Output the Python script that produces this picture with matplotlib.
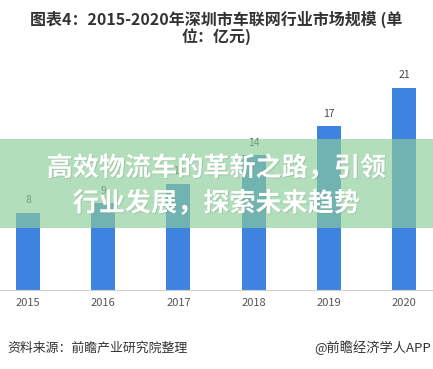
import matplotlib
matplotlib.use("Agg")
import matplotlib.pyplot as plt
from matplotlib.patches import Rectangle
import matplotlib.patheffects as pe

plt.rcParams['font.family'] = ['Noto Sans CJK SC', 'DejaVu Sans']

years = ["2015", "2016", "2017", "2018", "2019", "2020"]
values = [8, 9, 11, 14, 17, 21]
title = "图表4：2015-2020年深圳市车联网行业市场规模 (单\n位：亿元)"
overlay = "高效物流车的革新之路，引领\n行业发展，探索未来趋势"
source = "资料来源：前瞻产业研究院整理"
credit = "@前瞻经济学人APP"

fig = plt.figure(figsize=(4.33, 3.69), dpi=100)
ax = fig.add_axes([0, 0.214, 1, 0.652])
x = range(len(years))
ax.bar(x, values, width=0.32, color="#3f83e0", zorder=2)
for i, v in zip(x, values):
    ax.text(i, v + 0.8, str(v), ha="center", va="bottom", fontsize=7.5, color="#444")
ax.set_xlim(-0.372, 5.386)
ax.set_ylim(0, 25)
ax.set_xticks(list(x))
ax.set_xticklabels(years, fontsize=8, color="#555")
ax.tick_params(axis="x", length=0, pad=6)
ax.set_yticks([])
for s in ["top", "left", "right"]:
    ax.spines[s].set_visible(False)
ax.spines["bottom"].set_color("#d0d0d0")

fig.text(0.5, 0.97, title, ha="center", va="top", fontsize=11.5, fontweight="heavy",
         color="#333333", linespacing=0.95)

# green band overlay
fig.patches.append(Rectangle((0, (369 - 228) / 369), 1, 89 / 369, transform=fig.transFigure,
                             facecolor="#8ccd99", alpha=0.66, edgecolor="none", zorder=5))
fig.text(0.5, (369 - 186) / 369, overlay, ha="center", va="center", fontsize=18.8,
         fontweight="bold", color="white", linespacing=1.4, zorder=6,
         path_effects=[pe.withSimplePatchShadow(offset=(0.6, -0.6), shadow_rgbFace="#7aa884", alpha=0.5)])

fig.text(0.018, (369 - 348) / 369, source, ha="left", va="center", fontsize=9.3, color="#333")
fig.text(0.995, (369 - 348) / 369, credit, ha="right", va="center", fontsize=9.5, color="#333")

fig.savefig("out.png", dpi=100)
